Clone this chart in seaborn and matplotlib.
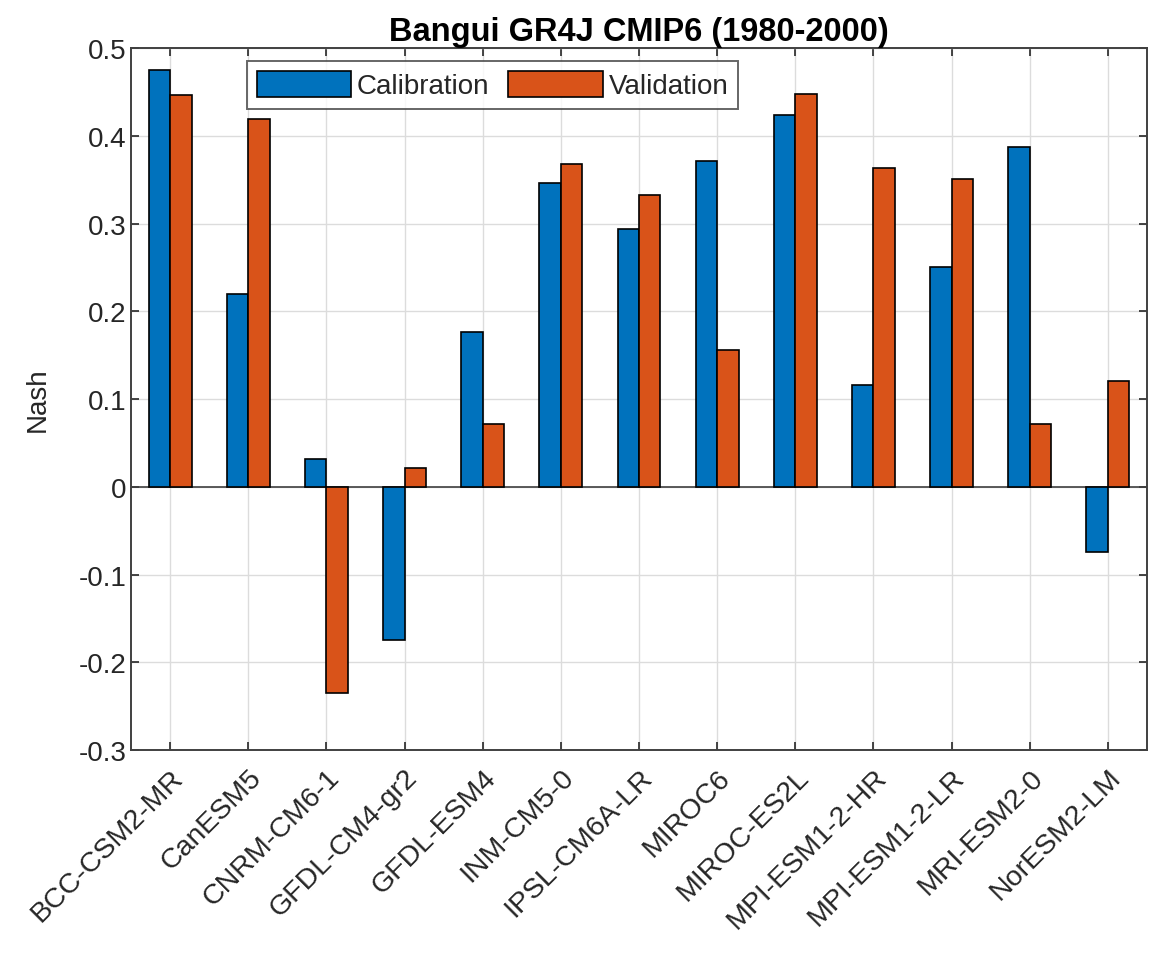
import matplotlib
matplotlib.use("Agg")
import matplotlib.pyplot as plt
import matplotlib.ticker as mticker
import seaborn as sns
import pandas as pd

models = ["BCC-CSM2-MR", "CanESM5", "CNRM-CM6-1", "GFDL-CM4-gr2", "GFDL-ESM4",
          "INM-CM5-0", "IPSL-CM6A-LR", "MIROC6", "MIROC-ES2L", "MPI-ESM1-2-HR",
          "MPI-ESM1-2-LR", "MRI-ESM2-0", "NorESM2-LM"]
calibration = [0.475, 0.220, 0.032, -0.175, 0.176, 0.346, 0.294, 0.371,
               0.424, 0.116, 0.250, 0.387, -0.074]
validation = [0.446, 0.419, -0.235, 0.021, 0.072, 0.368, 0.333, 0.156,
              0.448, 0.363, 0.351, 0.072, 0.120]
series_names = ["Calibration", "Validation"]
y_ticks = [-0.3, -0.2, -0.1, 0, 0.1, 0.2, 0.3, 0.4, 0.5]

df = pd.DataFrame({
    "model": models * 2,
    "Nash": calibration + validation,
    "series": [series_names[0]] * len(models) + [series_names[1]] * len(models),
})

sns.set_theme(style="white")
plt.rcParams["font.family"] = ["Liberation Sans", "DejaVu Sans"]

axis_col = "#262626"
fig = plt.figure(figsize=(11.62, 9.54), dpi=100)
ax = fig.add_axes([131 / 1162, 1 - 751 / 954, 1016 / 1162, 702 / 954])

sns.barplot(data=df, x="model", y="Nash", hue="series", order=models,
            hue_order=series_names, palette=["#0072BD", "#D95319"],
            width=0.55, gap=0, edgecolor="black", linewidth=1.2,
            saturation=1, errorbar=None, ax=ax, zorder=3)

ax.set_xlim(-0.5, len(models) - 0.5)
ax.set_ylim(-0.3, 0.5)
ax.set_yticks(y_ticks)
ax.yaxis.set_major_formatter(mticker.FuncFormatter(
    lambda v, p: "0" if abs(v) < 1e-9 else f"{v:g}"))
ax.axhline(0, color="#404040", linewidth=1.2, zorder=2)

ax.grid(True, color="#dcdcdc", linewidth=1.0, zorder=0)
ax.set_axisbelow(True)
ax.tick_params(axis="both", direction="in", length=6, width=1.2, colors=axis_col,
               labelsize=20, top=True, right=True, bottom=True, left=True)
ax.tick_params(axis="y", pad=3)
ax.tick_params(axis="x", pad=10, labelsize=20.5)
plt.setp(ax.get_xticklabels(), rotation=45, ha="right", rotation_mode="anchor")
for s in ax.spines.values():
    s.set_visible(True)
    s.set_color("#404040")
    s.set_linewidth(1.4)

ax.set_xlabel("")
ax.set_ylabel("Nash", fontsize=20, color=axis_col, labelpad=20)
ax.set_title("Bangui GR4J CMIP6 (1980-2000)", fontsize=23.5, fontweight="bold",
             color="black", pad=6)

leg = ax.legend(loc="upper left", bbox_to_anchor=(0.114, 0.981), ncol=2,
                fontsize=20, frameon=True, fancybox=False, edgecolor="#404040",
                handlelength=3.4, handleheight=1.05, handletextpad=0.2,
                columnspacing=0.7, borderpad=0.35, borderaxespad=0)
leg.get_frame().set_linewidth(1.4)
for t in leg.get_texts():
    t.set_color(axis_col)

fig.savefig("out.png", dpi=100, facecolor="white")
